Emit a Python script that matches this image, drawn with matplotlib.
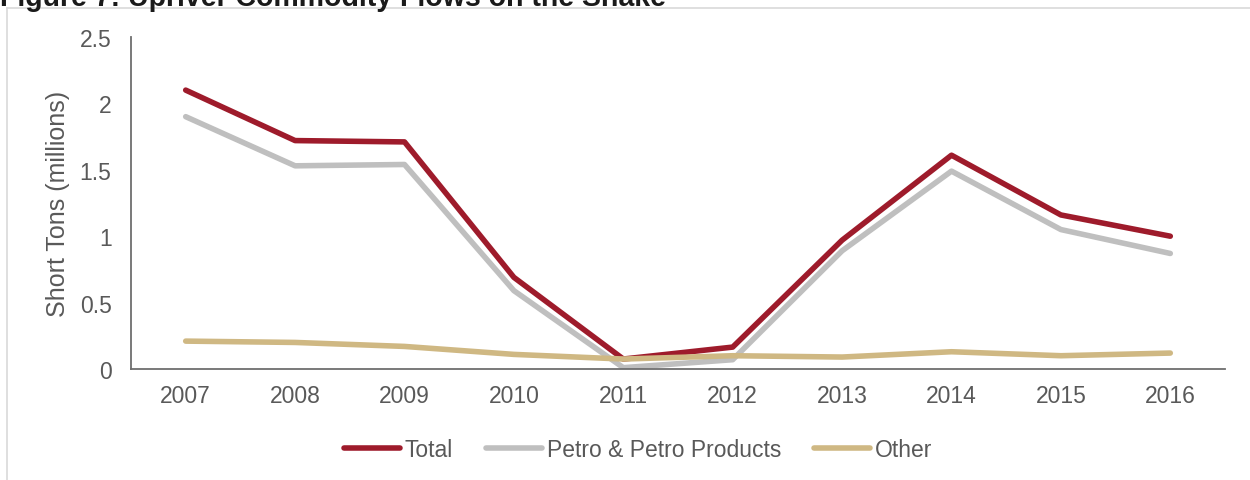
import matplotlib
matplotlib.use("Agg")
import matplotlib.pyplot as plt
from matplotlib.lines import Line2D

years = ["2007", "2008", "2009", "2010", "2011", "2012", "2013", "2014", "2015", "2016"]
total = [2.10, 1.72, 1.71, 0.69, 0.075, 0.165, 0.97, 1.61, 1.16, 1.00]
petro = [1.90, 1.53, 1.54, 0.59, 0.01, 0.07, 0.89, 1.49, 1.05, 0.87]
other = [0.21, 0.20, 0.17, 0.11, 0.075, 0.10, 0.09, 0.13, 0.10, 0.12]

y_ticks = [0, 0.5, 1, 1.5, 2, 2.5]
y_tick_labels = ["0", "0.5", "1", "1.5", "2", "2.5"]

plt.rcParams["font.family"] = ["Liberation Sans", "DejaVu Sans"]
text_color = "#595959"

W, H = 1250, 481
fig = plt.figure(figsize=(W / 100, H / 100), dpi=100)
ax = fig.add_axes([131 / W, 1 - 370 / H, (1225 - 131) / W, (370 - 38) / H])

x = list(range(len(years)))
ax.plot(x, total, color="#9E1B2B", lw=4, solid_capstyle="round", label="Total", zorder=3)
ax.plot(x, petro, color="#BFBFBF", lw=4, solid_capstyle="round", label="Petro & Petro Products", zorder=2)
ax.plot(x, other, color="#CFB883", lw=4, solid_capstyle="round", label="Other", zorder=4)

ax.set_xlim(-0.5, 9.5)
ax.set_ylim(0, 2.5)
ax.set_xticks(x)
ax.set_xticklabels(years)
ax.set_yticks(y_ticks)
ax.set_yticklabels(y_tick_labels)
ax.tick_params(length=0, labelsize=16.5, colors=text_color)
ax.tick_params(axis="x", pad=11)
ax.tick_params(axis="y", pad=14)
for s in ["top", "right"]:
    ax.spines[s].set_visible(False)
for s in ["left", "bottom"]:
    ax.spines[s].set_color("#6e6e6e")
    ax.spines[s].set_linewidth(1.3)
ax.set_ylabel("Short Tons (millions)", fontsize=18, color=text_color, labelpad=7)

leg = fig.legend(loc="center", bbox_to_anchor=(638 / W, 1 - 451 / H), ncol=3, frameon=False,
                 handlelength=2.45, handletextpad=0.2, columnspacing=1.45,
                 prop={"size": 16.5})
for t in leg.get_texts():
    t.set_color(text_color)

# outer frame of the figure box
fig.add_artist(Line2D([7 / W, 1], [1 - 9 / H, 1 - 9 / H], color="#d9d9d9", lw=1.2))
fig.add_artist(Line2D([7 / W, 7 / W], [0, 1 - 9 / H], color="#d9d9d9", lw=1.2))

# title, cut off by the top edge; scale its size so it spans ~668 px
title = fig.text(0.0, 1 - 6 / H, "Figure 7: Upriver Commodity Flows on the Snake", fontsize=17,
                 fontweight="bold", color="#1a1a1a", va="baseline", ha="left")
r = fig.canvas.get_renderer()
w = title.get_window_extent(r).width
title.set_fontsize(17 * 668 / w)

fig.savefig("out.png", dpi=100)
